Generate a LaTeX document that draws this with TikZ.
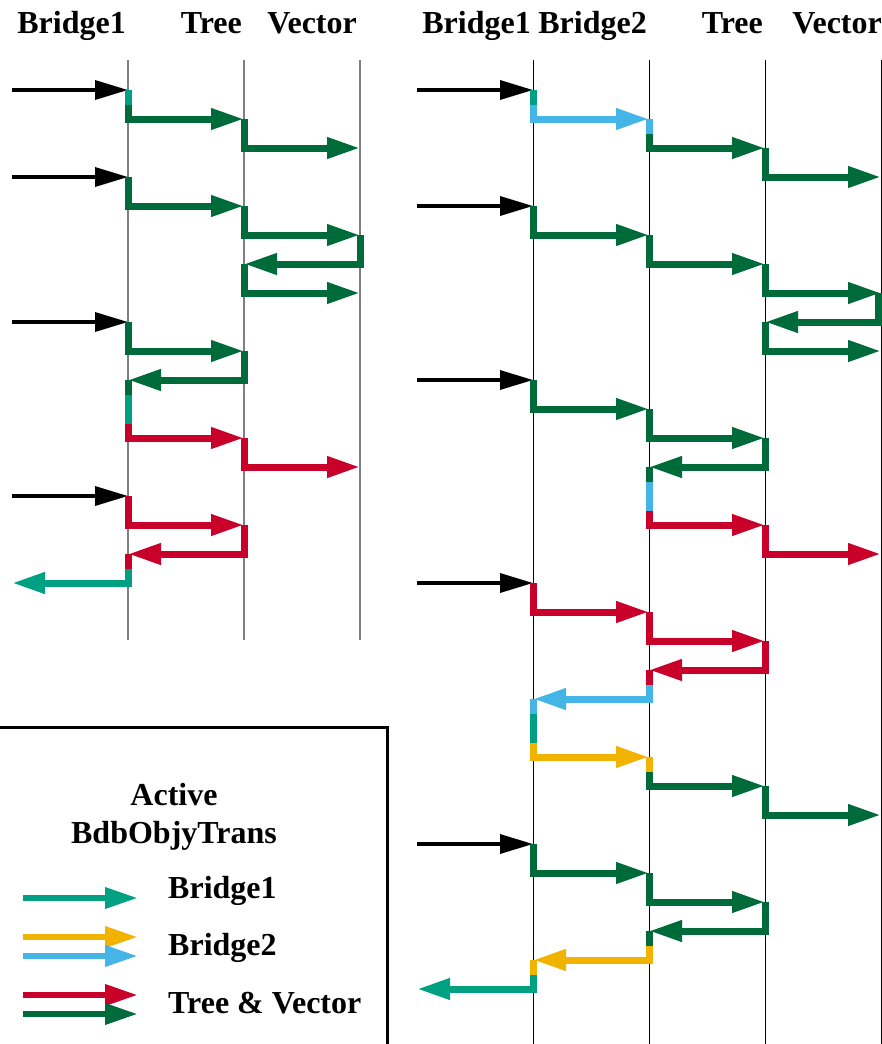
\documentclass[tikz,border=0pt]{standalone}
\usepackage{fontspec}
\setmainfont{Liberation Serif}
\usepackage{tikz}
\usetikzlibrary{arrows.meta}
\definecolor{bridgeone}{RGB}{0,160,130}
\definecolor{bridgetwo}{RGB}{242,178,0}
\definecolor{bridgesky}{RGB}{69,181,232}
\definecolor{treered}{RGB}{200,0,42}
\definecolor{treegreen}{RGB}{0,107,58}
\newcommand{\bigbf}{\fontsize{32}{36}\selectfont\bfseries}

\begin{document}
\begin{tikzpicture}[x=1pt,y=-1pt,
    lifeline/.style={line width=1.5pt,gray},
    lifelinedark/.style={line width=1pt,black},
    call/.style={line width=3.5pt,-{Triangle[length=33pt,width=19pt]}},
    msg/.style={line width=7pt,line join=miter,-{Triangle[length=33pt,width=20pt]}},
    seg/.style={line width=7pt},
    head/.style={anchor=base east,font=\bigbf,inner sep=0pt},
    keytext/.style={anchor=base west,font=\bigbf,inner sep=0pt}]
    \useasboundingbox (0,0) rectangle (882,1044);
    % ===== LEFT PANEL: Bridge1 / Tree / Vector =====
    \begin{scope}
      \node[head] (hbl) at (126,33) {Bridge1};
      \node[head] (htl) at (242,33) {Tree};
      \node[head] (hvl) at (357,33) {Vector};
      \foreach \x in {128,244,360} \draw[lifeline] (\x,60) -- (\x,640);
      % first call
      \draw[call] (12,90) -- (128,90);
      \draw[seg,bridgeone] (128,90) -- (128,104.5);
      \draw[msg,treegreen] (128,104.5) -- (128,119) -- (244,119);
      \draw[msg,treegreen] (244,119) -- (244,148) -- (360,148);
      % second call
      \draw[call] (12,177) -- (128,177);
      \draw[msg,treegreen] (128,177) -- (128,206) -- (244,206);
      \draw[msg,treegreen] (244,206) -- (244,235) -- (360,235);
      \draw[msg,treegreen] (360,235) -- (360,264) -- (244,264);
      \draw[msg,treegreen] (244,264) -- (244,293) -- (360,293);
      % third call
      \draw[call] (12,322) -- (128,322);
      \draw[msg,treegreen] (128,322) -- (128,351) -- (244,351);
      \draw[msg,treegreen] (244,351) -- (244,380) -- (128,380);
      \draw[seg,treegreen] (128,380) -- (128,394.5);
      \draw[seg,bridgeone] (128,394.5) -- (128,423.5);
      \draw[msg,treered] (128,423.5) -- (128,438) -- (244,438);
      \draw[msg,treered] (244,438) -- (244,467) -- (360,467);
      % fourth call
      \draw[call] (12,496) -- (128,496);
      \draw[msg,treered] (128,496) -- (128,525) -- (244,525);
      \draw[msg,treered] (244,525) -- (244,554) -- (128,554);
      \draw[seg,treered] (128,554) -- (128,568.5);
      \draw[msg,bridgeone] (128,568.5) -- (128,583) -- (12,583);
    \end{scope}
    % ===== RIGHT PANEL: Bridge1 / Bridge2 / Tree / Vector =====
    \begin{scope}
      \node[head] (hbr) at (531,33) {Bridge1};
      \node[head] (hbbr) at (647,33) {Bridge2};
      \node[head] (htr) at (763,33) {Tree};
      \node[head] (hvr) at (882,33) {Vector};
      \foreach \x in {533,649,765,881} \draw[lifelinedark] (\x,60) -- (\x,1044);
      % first call
      \draw[call] (417,90) -- (533,90);
      \draw[seg,bridgeone] (533,90) -- (533,104.5);
      \draw[msg,bridgesky] (533,104.5) -- (533,119) -- (649,119);
      \draw[seg,bridgesky] (649,119) -- (649,133.5);
      \draw[msg,treegreen] (649,133.5) -- (649,148) -- (765,148);
      \draw[msg,treegreen] (765,148) -- (765,177) -- (881,177);
      % second call
      \draw[call] (417,206) -- (533,206);
      \draw[msg,treegreen] (533,206) -- (533,235) -- (649,235);
      \draw[msg,treegreen] (649,235) -- (649,264) -- (765,264);
      \draw[msg,treegreen] (765,264) -- (765,293) -- (881,293);
      \draw[msg,treegreen] (878,293) -- (878,322) -- (765,322);
      \draw[msg,treegreen] (765,322) -- (765,351) -- (881,351);
      % third call
      \draw[call] (417,380) -- (533,380);
      \draw[msg,treegreen] (533,380) -- (533,409) -- (649,409);
      \draw[msg,treegreen] (649,409) -- (649,438) -- (765,438);
      \draw[msg,treegreen] (765,438) -- (765,467) -- (649,467);
      \draw[seg,treegreen] (649,467) -- (649,481.5);
      \draw[seg,bridgesky] (649,481.5) -- (649,510.5);
      \draw[msg,treered] (649,510.5) -- (649,525) -- (765,525);
      \draw[msg,treered] (765,525) -- (765,554) -- (881,554);
      % fourth call
      \draw[call] (417,583) -- (533,583);
      \draw[msg,treered] (533,583) -- (533,612) -- (649,612);
      \draw[msg,treered] (649,612) -- (649,641) -- (765,641);
      \draw[msg,treered] (765,641) -- (765,670) -- (649,670);
      \draw[seg,treered] (649,670) -- (649,684.5);
      \draw[msg,bridgesky] (649,684.5) -- (649,699) -- (533,699);
      \draw[seg,bridgesky] (533,699) -- (533,713.5);
      \draw[seg,bridgeone] (533,713.5) -- (533,742.5);
      \draw[msg,bridgetwo] (533,742.5) -- (533,757) -- (649,757);
      \draw[seg,bridgetwo] (649,757) -- (649,771.5);
      \draw[msg,treegreen] (649,771.5) -- (649,786) -- (765,786);
      \draw[msg,treegreen] (765,786) -- (765,815) -- (881,815);
      % fifth call
      \draw[call] (417,844) -- (533,844);
      \draw[msg,treegreen] (533,844) -- (533,873) -- (649,873);
      \draw[msg,treegreen] (649,873) -- (649,902) -- (765,902);
      \draw[msg,treegreen] (765,902) -- (765,931) -- (649,931);
      \draw[seg,treegreen] (649,931) -- (649,945.5);
      \draw[msg,bridgetwo] (649,945.5) -- (649,960) -- (533,960);
      \draw[seg,bridgetwo] (533,960) -- (533,974.5);
      \draw[msg,bridgeone] (533,974.5) -- (533,989) -- (417,989);
    \end{scope}
    % ===== LEGEND =====
    \draw[line width=3pt] (-10,727) -- (387,727) -- (387,1060);
    \node[font=\bigbf,anchor=base,inner sep=0pt] (ktitle) at (174,805) {Active};
    \node[font=\bigbf,anchor=base,inner sep=0pt] (ktitleb) at (174,843) {BdbObjyTrans};
    \draw[msg,line width=6.5pt,bridgeone] (23,898) -- (138,898);
    \node[keytext] (kbone) at (168,898) {Bridge1};
    \draw[msg,line width=6.5pt,bridgetwo] (23,937) -- (138,937);
    \draw[msg,line width=6.5pt,bridgesky] (23,956) -- (138,956);
    \node[keytext] (kbtwo) at (168,955) {Bridge2};
    \draw[msg,line width=6.5pt,treered] (23,995) -- (138,995);
    \draw[msg,line width=6.5pt,treegreen] (23,1014) -- (138,1014);
    \node[keytext] (ktree) at (168,1013) {Tree \& Vector};
  \end{tikzpicture}
\end{document}
